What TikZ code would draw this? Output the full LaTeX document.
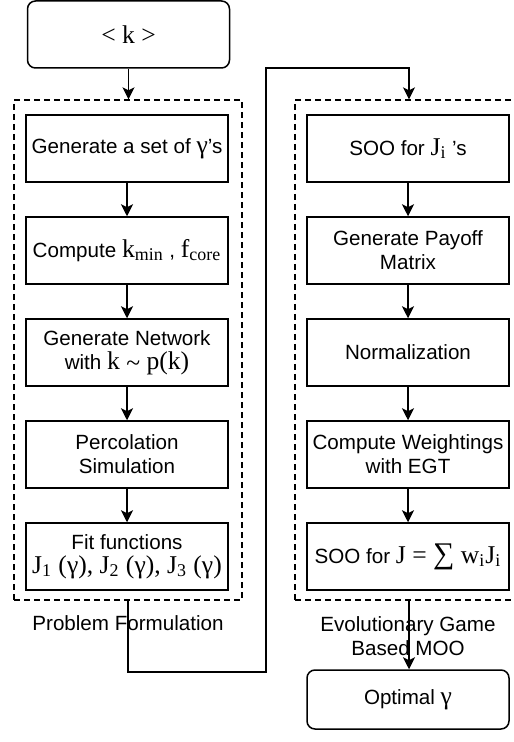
\documentclass[tikz,border=0pt]{standalone}
\usepackage{fontspec}
\setmainfont{Liberation Sans}
\newfontfamily\mathserif{Liberation Serif}
\usetikzlibrary{positioning,arrows.meta}

% serif symbols and subscripts inside the boxes
\newcommand{\sv}[1]{{\mathserif\fontsize{12.8}{12}\selectfont #1}}
\newcommand{\sub}[1]{\textsubscript{#1}}

\begin{document}
\begin{tikzpicture}[x=0.5pt, y=-0.5pt, node distance=16.75pt,
  font=\fontsize{10.3}{12}\selectfont,
  stepbox/.style={draw, line width=0.75pt, minimum width=101pt, minimum height=33.5pt, align=center, inner sep=1pt},
  endbox/.style={stepbox, rounded corners=4pt},
  groupbox/.style={draw, dash pattern=on 3pt off 2pt, line width=0.65pt, inner sep=0pt, minimum width=114pt, minimum height=250pt},
  flow/.style={-{Stealth[length=6pt, width=6pt, inset=1.5pt]}, line width=0.65pt}]
\useasboundingbox (0,0) rectangle (513,742);
\clip (0,0) rectangle (513,742);

% start and end
\node[endbox] (k) at (128.5,34.5) {\sv{< k >}};
\node[endbox, minimum height=29.5pt] (opt) at (408,699.5) {Optimal \sv{γ}};

% the two groups
\node[groupbox] (pf) at (128,350) {};
\node[groupbox] (moo) at (409,350) {};
\node (pflabel) at (128,623) {Problem Formulation};
\node[align=center] (moolabel) at (408,636) {Evolutionary Game\\Based MOO};

% problem formulation steps
\node[stepbox] (gam) at (127,148.5) {Generate a set of \sv{γ}'s};
\node[stepbox, below=of gam] (kmin) {Compute \sv{k\sub{min}} , \sv{f\sub{core}}};
\node[stepbox, below=of kmin] (net) {Generate Network\\with \sv{k \raisebox{-0.2ex}{\textasciitilde} p(k)}};
\node[stepbox, below=of net] (perc) {Percolation\\Simulation};
\node[stepbox, below=of perc] (fit) {Fit functions\\\sv{J\sub{1} (γ), J\sub{2} (γ), J\sub{3} (γ)}};

% game based MOO steps
\node[stepbox] (sooi) at (408,148.5) {SOO for \sv{J\sub{i}} 's};
\node[stepbox, below=of sooi] (payoff) {Generate Payoff\\Matrix};
\node[stepbox, below=of payoff] (norm) {Normalization};
\node[stepbox, below=of norm] (egt) {Compute Weightings\\with EGT};
\node[stepbox, below=of egt] (soo) {SOO for \sv{J = {\fontsize{15}{12}\selectfont ∑} w\sub{i}J\sub{i}}};

\coordinate (low) at (266,672);
\coordinate (high) at (266,68);

\draw[flow] (k.south) -- (k.south |- pf.north);
\foreach \a/\b in {gam/kmin, kmin/net, net/perc, perc/fit, sooi/payoff, payoff/norm, norm/egt, egt/soo}
  \draw[flow] (\a) -- (\b);
\draw[flow] (pf.south) |- (low) -- (high) -| (moo.north);
\draw[flow] (moo.south) -- (moo.south |- opt.north);
\end{tikzpicture}
\end{document}
